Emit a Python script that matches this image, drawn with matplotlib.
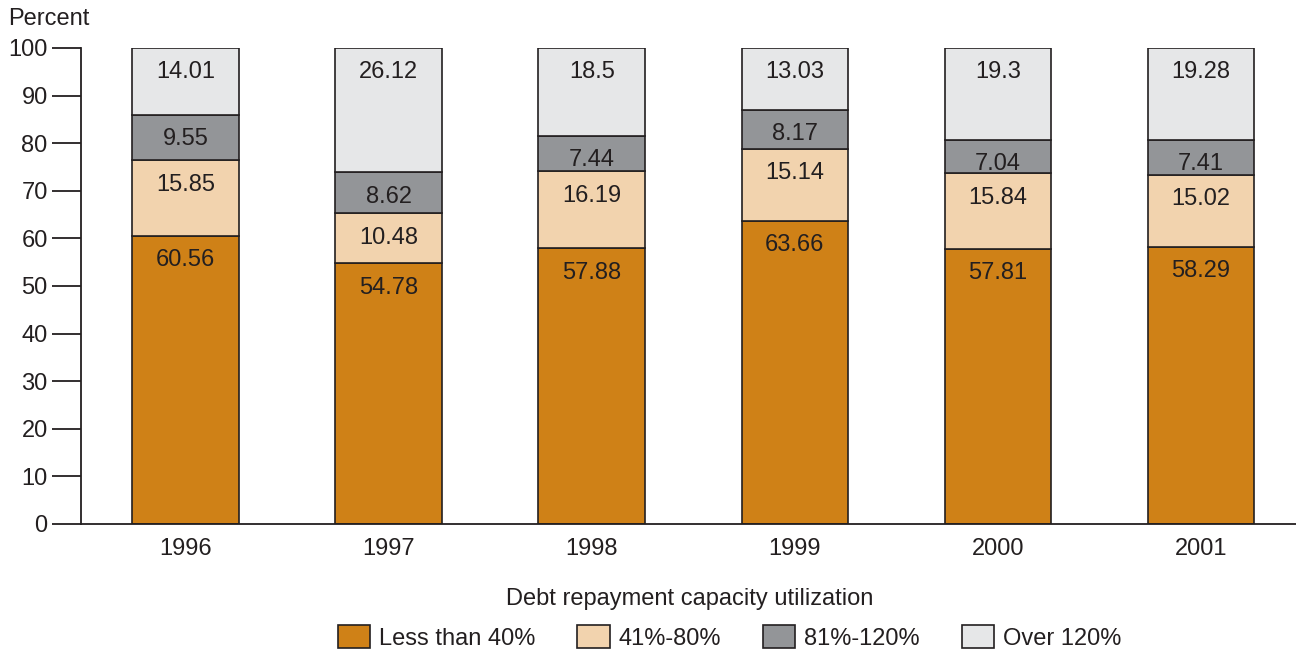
import matplotlib
matplotlib.use("Agg")
import matplotlib.pyplot as plt
import numpy as np

plt.rcParams['font.family'] = ['Liberation Sans', 'DejaVu Sans']

years = ["1996", "1997", "1998", "1999", "2000", "2001"]
less_than_40 = [60.56, 54.78, 57.88, 63.66, 57.81, 58.29]
pct_41_80 = [15.85, 10.48, 16.19, 15.14, 15.84, 15.02]
pct_81_120 = [9.55, 8.62, 7.44, 8.17, 7.04, 7.41]
over_120 = [14.01, 26.12, 18.5, 13.03, 19.3, 19.28]

series_names = ["Less than 40%", "41%-80%", "81%-120%", "Over 120%"]
series_values = [less_than_40, pct_41_80, pct_81_120, over_120]
colors = ["#CF8117", "#F2D3AE", "#939598", "#E6E7E8"]
ink = "#231F20"
fs = 17

W, H = 1296, 652
fig = plt.figure(figsize=(W / 100, H / 100), dpi=100)
ax = fig.add_axes([81 / W, 1 - 524 / H, (W - 81) / W, (524 - 48) / H])

x = np.arange(len(years))
bottom = np.zeros(len(years))
handles = []
for name, vals, col in zip(series_names, series_values, colors):
    vals = np.array(vals)
    bars = ax.bar(x, vals, bottom=bottom, width=0.525, color=col,
                  edgecolor=ink, linewidth=1.2, label=name, zorder=2)
    handles.append(bars)
    tops = bottom + vals
    for xi, top, v in zip(x, tops, vals):
        ax.text(xi, top - 5.1, f"{v:g}", ha="center", va="center",
                fontsize=fs, color=ink, zorder=3)
    bottom = tops

ax.set_xlim(-0.515, 5.468)
ax.set_ylim(0, 100)
ax.set_yticks(np.arange(0, 101, 10))
ax.set_xticks(x)
ax.set_xticklabels(years)

for s in ["top", "right"]:
    ax.spines[s].set_visible(False)
for s in ["left", "bottom"]:
    ax.spines[s].set_color(ink)
    ax.spines[s].set_linewidth(1.3)

ax.tick_params(axis="y", direction="out", length=21, width=1.3, color=ink,
               labelsize=fs, labelcolor=ink, pad=3)
ax.tick_params(axis="x", length=0, labelsize=fs, labelcolor=ink, pad=10)

fig.text(8 / W, 1 - 19 / H, "Percent", ha="left", va="center",
         fontsize=fs, color=ink)
fig.text(690 / W, 1 - 599 / H, "Debt repayment capacity utilization",
         ha="center", va="center", fontsize=fs, color=ink)

leg = fig.legend(handles=handles, labels=series_names, loc="upper left",
                 bbox_to_anchor=(338 / W, 1 - 625 / H), ncol=4, frameon=False,
                 fontsize=fs, handlelength=1.36, handleheight=1.15,
                 handletextpad=0.38, columnspacing=1.78, borderpad=0,
                 borderaxespad=0, labelcolor=ink)

fig.savefig("out.png", dpi=100)
